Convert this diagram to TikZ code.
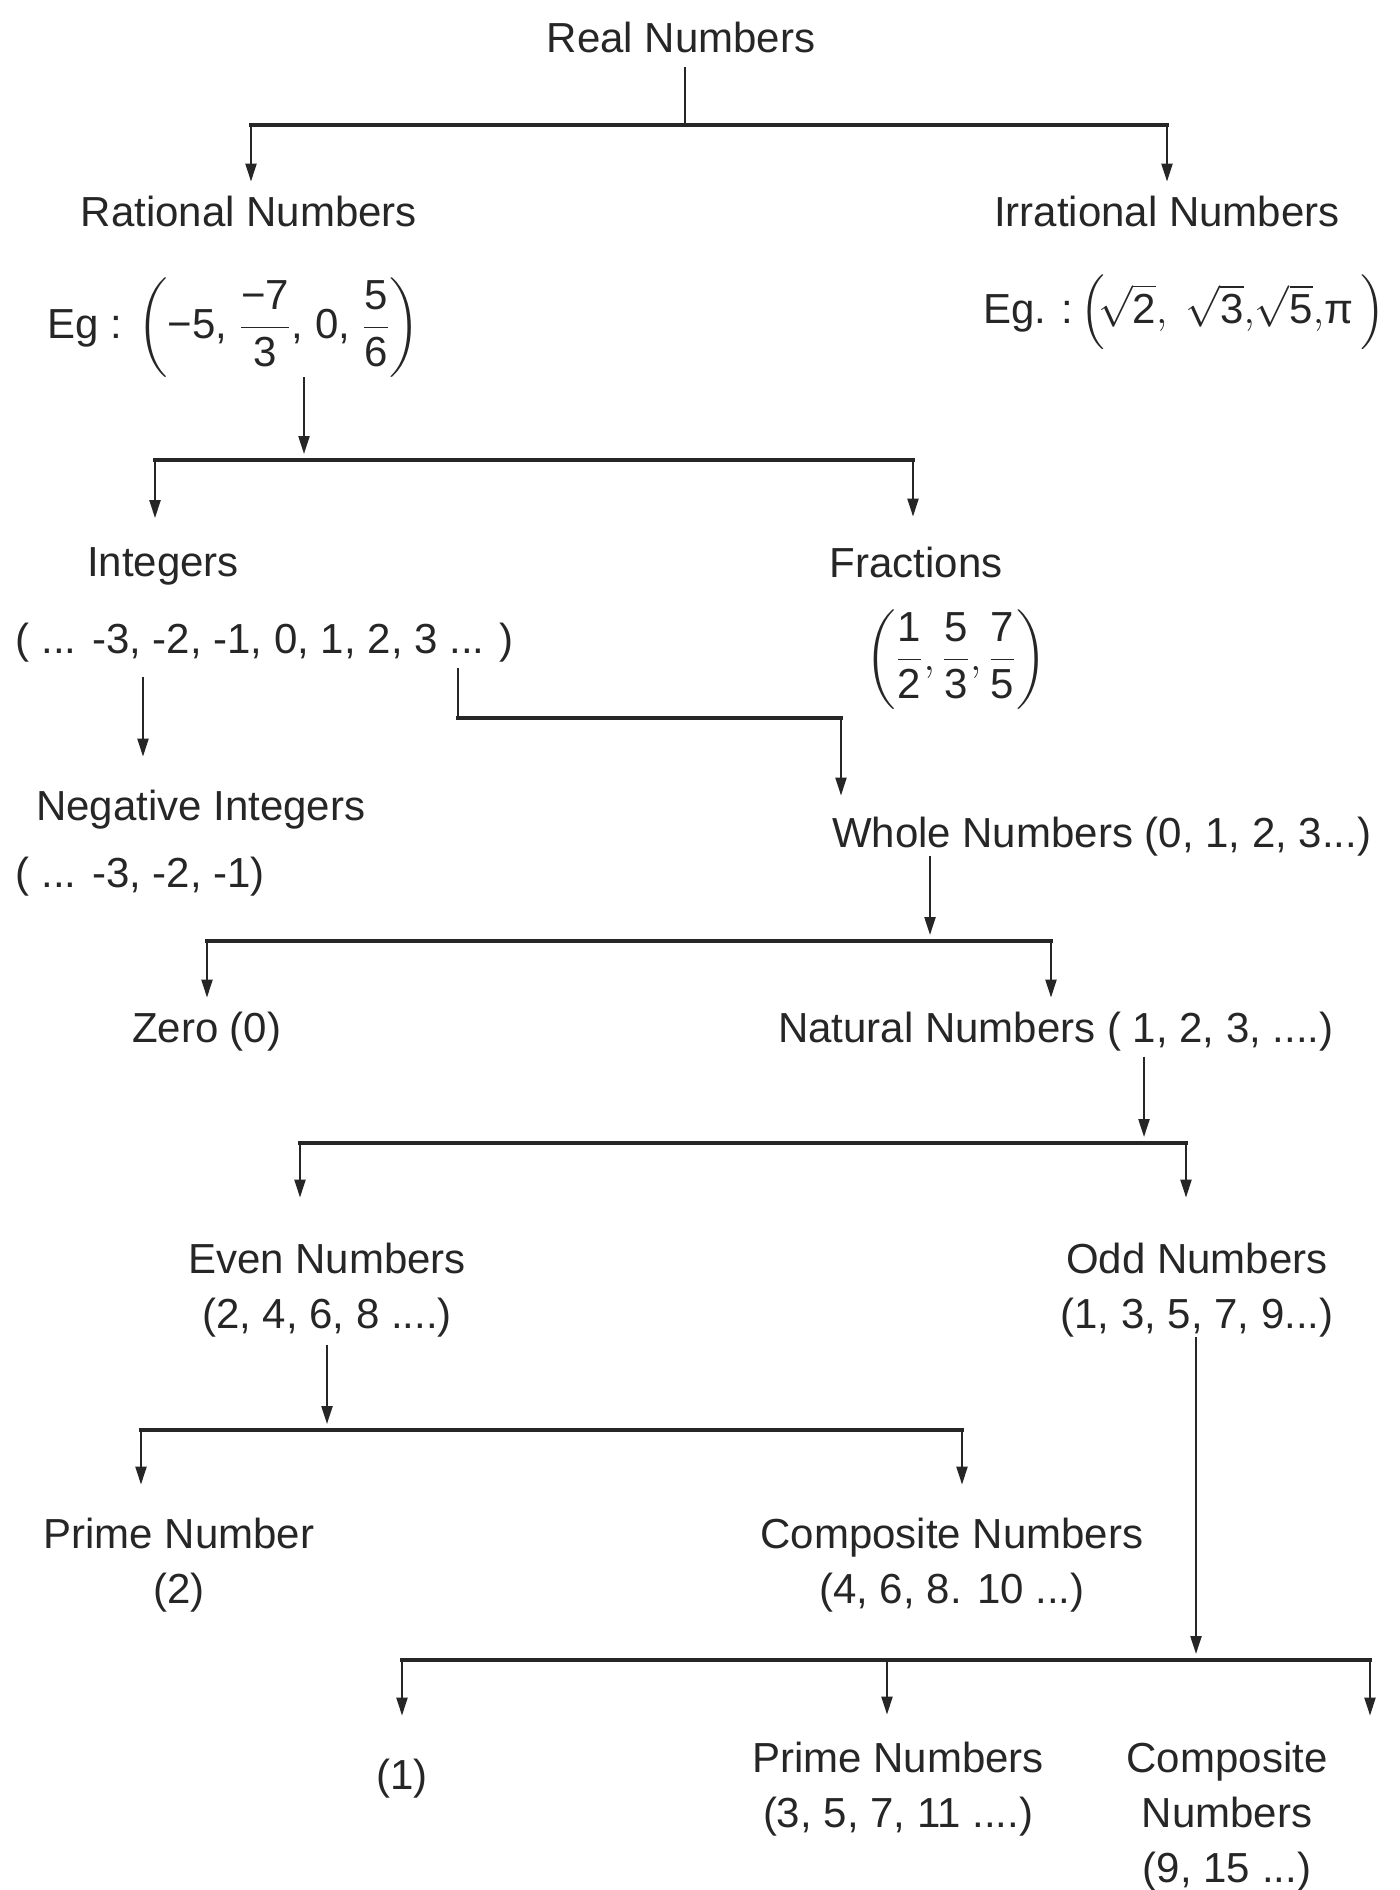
\documentclass[tikz,border=0pt]{standalone}
\usepackage{amsmath}
\usepackage{fontspec}
\setmainfont{Liberation Sans}
\usetikzlibrary{arrows.meta}
\definecolor{ink}{RGB}{38,38,38}
\begin{document}
\begin{tikzpicture}[x=0.5pt,y=-0.5pt,
  lbl/.style={inner sep=0pt, outer sep=0pt, font=\fontsize{21}{27.5}\selectfont, text=ink, anchor=base, align=center},
  ln/.style={draw=ink, line width=1.1pt},
  bar/.style={draw=ink, line width=2pt, line cap=rect},
  arr/.style={ln, -{Triangle[length=9pt,width=5.5pt]}},
]
\fill[white] (0,0) rectangle (1400,1890);
\useasboundingbox (0,0) rectangle (1400,1890);

% nodes (anchor base = baseline of the LAST line)
\node[lbl] (real) at (681,52) {Real Numbers};
\node[lbl] (rat) at (249,226) {Rational Numbers};
\node[lbl, anchor=base west] (rateg) at (47,338) {Eg : $\left(\text{−5, }\dfrac{\text{−7}\rule{0pt}{17pt}}{\text{3}}\text{, 0, }\dfrac{\text{5}}{\text{6}}\right)$};
\node[lbl] (irr) at (1167,226) {Irrational Numbers};
\node[lbl, anchor=base west] (irreg) at (983,323) {Eg. :\,$\Bigl(\!\sqrt{\text{2}},\;\sqrt{\text{3}},\!\sqrt{\text{5}},\!\text{π}\,\Bigr)$};
\node[lbl] (int) at (163,576) {Integers};
\node[lbl, anchor=base west] (intlist) at (16,653) {( ... -3, -2, -1, 0, 1, 2, 3 ... )};
\node[lbl] (frac) at (916,577) {Fractions};
\node[lbl] (fraceg) at (956,670) {$\left(\dfrac{\text{1}}{\text{2}},\dfrac{\text{5}}{\text{3}},\dfrac{\text{7}}{\text{5}}\right)$};
\node[lbl, anchor=base west] (neg) at (36,820) {Negative Integers};
\node[lbl, anchor=base west] (neglist) at (16,887) {( ... -3, -2, -1)};
\node[lbl, anchor=base west] (whole) at (832,847) {Whole Numbers (0, 1, 2, 3...)};
\node[lbl, anchor=base west] (zero) at (132,1042) {Zero (0)};
\node[lbl, anchor=base west] (nat) at (778,1042) {Natural Numbers ( 1, 2, 3, ....)};
\node[lbl] (even) at (327,1328) {Even Numbers\\(2, 4, 6, 8 ....)};
\node[lbl] (odd) at (1197,1328) {Odd Numbers\\(1, 3, 5, 7, 9...)};
\node[lbl] (prime) at (179,1603) {Prime Number\\(2)};
\node[lbl] (comp) at (952,1603) {Composite Numbers\\(4, 6, 8. 10 ...)};
\node[lbl] (one) at (402,1789) {(1)};
\node[lbl] (primes) at (898,1827) {Prime Numbers\\(3, 5, 7, 11 ....)};
\node[lbl] (comps) at (1227,1882) {Composite\\Numbers\\(9, 15 ...)};

% coordinates
\coordinate (b1) at (685,125);
\coordinate (b1l) at (251,125);
\coordinate (b1r) at (1167,125);
\coordinate (b2) at (304,460);
\coordinate (b2l) at (155,460);
\coordinate (b2r) at (913,460);
\coordinate (a3) at (143,700);
\coordinate (k1) at (458,718);
\coordinate (k2) at (841,718);
\coordinate (b3) at (930,941);
\coordinate (b3l) at (207,941);
\coordinate (b3r) at (1051,941);
\coordinate (b4) at (1144,1143);
\coordinate (b4l) at (300,1143);
\coordinate (b4r) at (1186,1143);
\coordinate (b5) at (327,1430);
\coordinate (b5l) at (141,1430);
\coordinate (b5r) at (962,1430);
\coordinate (b6) at (1196,1660);
\coordinate (b6l) at (402,1660);
\coordinate (b6m) at (887,1660);
\coordinate (b6r) at (1370,1660);

% real numbers
\draw[ln, shorten <=7.5pt] (b1 |- real.south) -- (b1);
\draw[bar] (b1l) -- (b1r);
\draw[arr, shorten >=7pt] (b1l) -- (b1l |- rat.north);
\draw[arr, shorten >=7pt] (b1r) -- (b1r |- irr.north);

% rational
\draw[arr, shorten >=3pt] (b2 |- rateg.south) -- (b2);
\draw[bar] (b2l) -- (b2r);
\draw[arr, shorten >=14.5pt] (b2l) -- (b2l |- int.north);
\draw[arr, shorten >=15pt] (b2r) -- (b2r |- frac.north);

% integers
\draw[arr, shorten <=7.5pt, shorten >=16.5pt] (a3 |- intlist.south) -- (a3 |- neg.north);
\draw[ln, shorten <=3pt] (k1 |- intlist.south) -- (k1);
\draw[bar] (k1) -- (k2);
\draw[arr, shorten >=10.5pt] (k2) -- (k2 |- whole.north);

% whole
\draw[arr, shorten >=3pt] (b3 |- whole.south) -- (b3);
\draw[bar] (b3l) -- (b3r);
\draw[arr, shorten >=7pt] (b3l) -- (b3l |- zero.north);
\draw[arr, shorten >=7pt] (b3r) -- (b3r |- nat.north);

% natural
\draw[arr, shorten <=3pt, shorten >=3pt] (b4 |- nat.south) -- (b4);
\draw[bar] (b4l) -- (b4r);
\draw[arr, shorten >=22.5pt] (b4l) -- (b4l |- even.north);
\draw[arr, shorten >=22.5pt] (b4r) -- (b4r |- odd.north);

% even
\draw[arr, shorten <=4pt, shorten >=3pt] (b5 |- even.south) -- (b5);
\draw[bar] (b5l) -- (b5r);
\draw[arr, shorten >=16.5pt] (b5l) -- (b5l |- prime.north);
\draw[arr, shorten >=16.5pt] (b5r) -- (b5r |- comp.north);

% odd
\draw[arr, shorten >=3pt] (b6 |- odd.south) -- (b6);
\draw[bar] (b6l) -- (b6r);
\draw[arr, shorten >=21.5pt] (b6l) -- (b6l |- one.north);
\draw[arr, shorten >=13.5pt] (b6m) -- (b6m |- primes.north);
\draw[arr, shorten >=13pt] (b6r) -- (b6r |- comps.north);
\end{tikzpicture}
\end{document}
